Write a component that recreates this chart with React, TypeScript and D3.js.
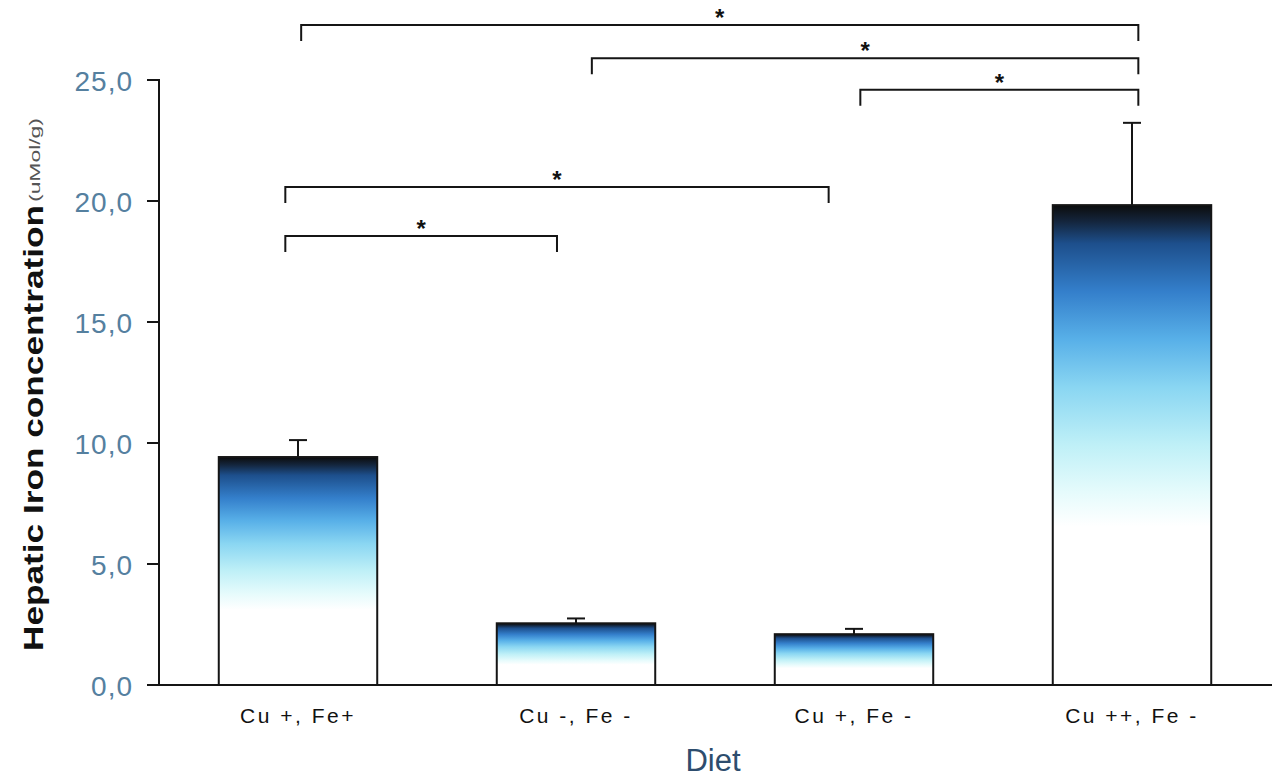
import React from "react";
import * as d3 from "d3";

// Diet groups and hepatic iron values (µmol/g), mean and SEM
const diets = ["Cu +, Fe+", "Cu -, Fe -", "Cu +, Fe -", "Cu ++, Fe -"];
const means = [9.42, 2.55, 2.1, 19.83];
const errors = [0.7, 0.2, 0.22, 3.4];
const yTicks = [0, 5, 10, 15, 20, 25];

// Significance brackets: from group, to group, level (data units), end offsets (fraction of band)
const bracketFrom = [0, 1, 2, 0, 0];
const bracketTo = [3, 3, 3, 2, 1];
const bracketLevel = [27.27, 25.9, 24.6, 20.58, 18.55];
const bracketFromOffset = [0.02, 0.1, 0.04, -0.08, -0.08];
const bracketToOffset = [0.04, 0.04, 0.04, -0.16, -0.12];

const W = 1272;
const H = 778;

export default function App() {
  const x = d3
    .scaleBand<string>()
    .domain(diets)
    .range([159, 1271])
    .paddingInner(0.43)
    .paddingOuter(0.215);
  const y = d3.scaleLinear().domain([0, 25]).range([685, 80]);
  const bw = x.bandwidth();
  const tickLen = 16 / 24.2; // bracket drop in data units
  const fmt = (v: number) => d3.format(".1f")(v).replace(".", ",");

  return (
    <svg
      width={W}
      height={H}
      style={{ position: "absolute", left: 0, top: 0, background: "#fff" }}
      fontFamily="Liberation Sans, Arial, sans-serif"
    >
      <defs>
        <linearGradient id="barFill" x1="0" y1="0" x2="0" y2="1">
          <stop offset="0" stopColor="#0c0c0c" />
          <stop offset="0.035" stopColor="#14263e" />
          <stop offset="0.08" stopColor="#1d4f8c" />
          <stop offset="0.18" stopColor="#347fcb" />
          <stop offset="0.28" stopColor="#58b0e8" />
          <stop offset="0.38" stopColor="#8ad6f2" />
          <stop offset="0.5" stopColor="#bff0f7" />
          <stop offset="0.6" stopColor="#e6fbfc" />
          <stop offset="0.67" stopColor="#ffffff" />
          <stop offset="1" stopColor="#ffffff" />
        </linearGradient>
      </defs>

      {/* bars */}
      {diets.map((d, i) => (
        <rect
          key={d}
          x={x(d)}
          y={y(means[i])}
          width={bw}
          height={y(0) - y(means[i])}
          fill="url(#barFill)"
          stroke="#151515"
          strokeWidth={2}
        />
      ))}

      {/* error bars (upper only) */}
      {diets.map((d, i) => {
        const cx = (x(d) as number) + bw / 2;
        return (
          <g key={d} stroke="#151515" strokeWidth={2}>
            <line x1={cx} x2={cx} y1={y(means[i])} y2={y(means[i] + errors[i])} />
            <line x1={cx - 9} x2={cx + 9} y1={y(means[i] + errors[i])} y2={y(means[i] + errors[i])} />
          </g>
        );
      })}

      {/* axes */}
      <g stroke="#151515" strokeWidth={2}>
        <line x1={159} x2={159} y1={y(25) - 1} y2={y(0) + 1} />
        <line x1={158} x2={1272} y1={y(0)} y2={y(0)} />
        {yTicks.map((t) => (
          <line key={t} x1={147} x2={159} y1={y(t)} y2={y(t)} />
        ))}
      </g>
      {yTicks.map((t) => (
        <text
          key={t}
          x={133}
          y={y(t)}
          dy="0.38em"
          textAnchor="end"
          fontSize={28}
          letterSpacing={1}
          fill="#55809f"
        >
          {fmt(t)}
        </text>
      ))}
      {diets.map((d) => (
        <text
          key={d}
          x={(x(d) as number) + bw / 2}
          y={723}
          textAnchor="middle"
          fontSize={21}
          fill="#111"
          letterSpacing={2.5}
        >
          {d}
        </text>
      ))}
      <text x={713} y={771} textAnchor="middle" fontSize={31} fill="#2d4d6e">
        Diet
      </text>
      <text
        transform={`translate(43,651) rotate(-90)`}
        fontSize={28}
        fontWeight="bold"
        fill="#111"
        textLength={446}
        lengthAdjust="spacingAndGlyphs"
      >
        Hepatic Iron concentration
      </text>
      <text
        transform={`translate(40,202) rotate(-90)`}
        fontSize={14}
        fill="#555"
        textLength={84}
        lengthAdjust="spacingAndGlyphs"
      >
        (uMol/g)
      </text>

      {/* significance brackets */}
      {bracketFrom.map((f, k) => {
        const x1 = (x(diets[f]) as number) + bw / 2 + bracketFromOffset[k] * bw;
        const x2 = (x(diets[bracketTo[k]]) as number) + bw / 2 + bracketToOffset[k] * bw;
        const yl = y(bracketLevel[k]);
        const yd = y(bracketLevel[k] - tickLen);
        return (
          <g key={k}>
            <path
              d={`M${x1},${yd}V${yl}H${x2}V${yd}`}
              fill="none"
              stroke="#151515"
              strokeWidth={2}
            />
            <text
              x={(x1 + x2) / 2}
              y={yl + 1}
              textAnchor="middle"
              fontSize={24}
              fontWeight="bold"
              fill="#111"
            >
              *
            </text>
          </g>
        );
      })}
    </svg>
  );
}
